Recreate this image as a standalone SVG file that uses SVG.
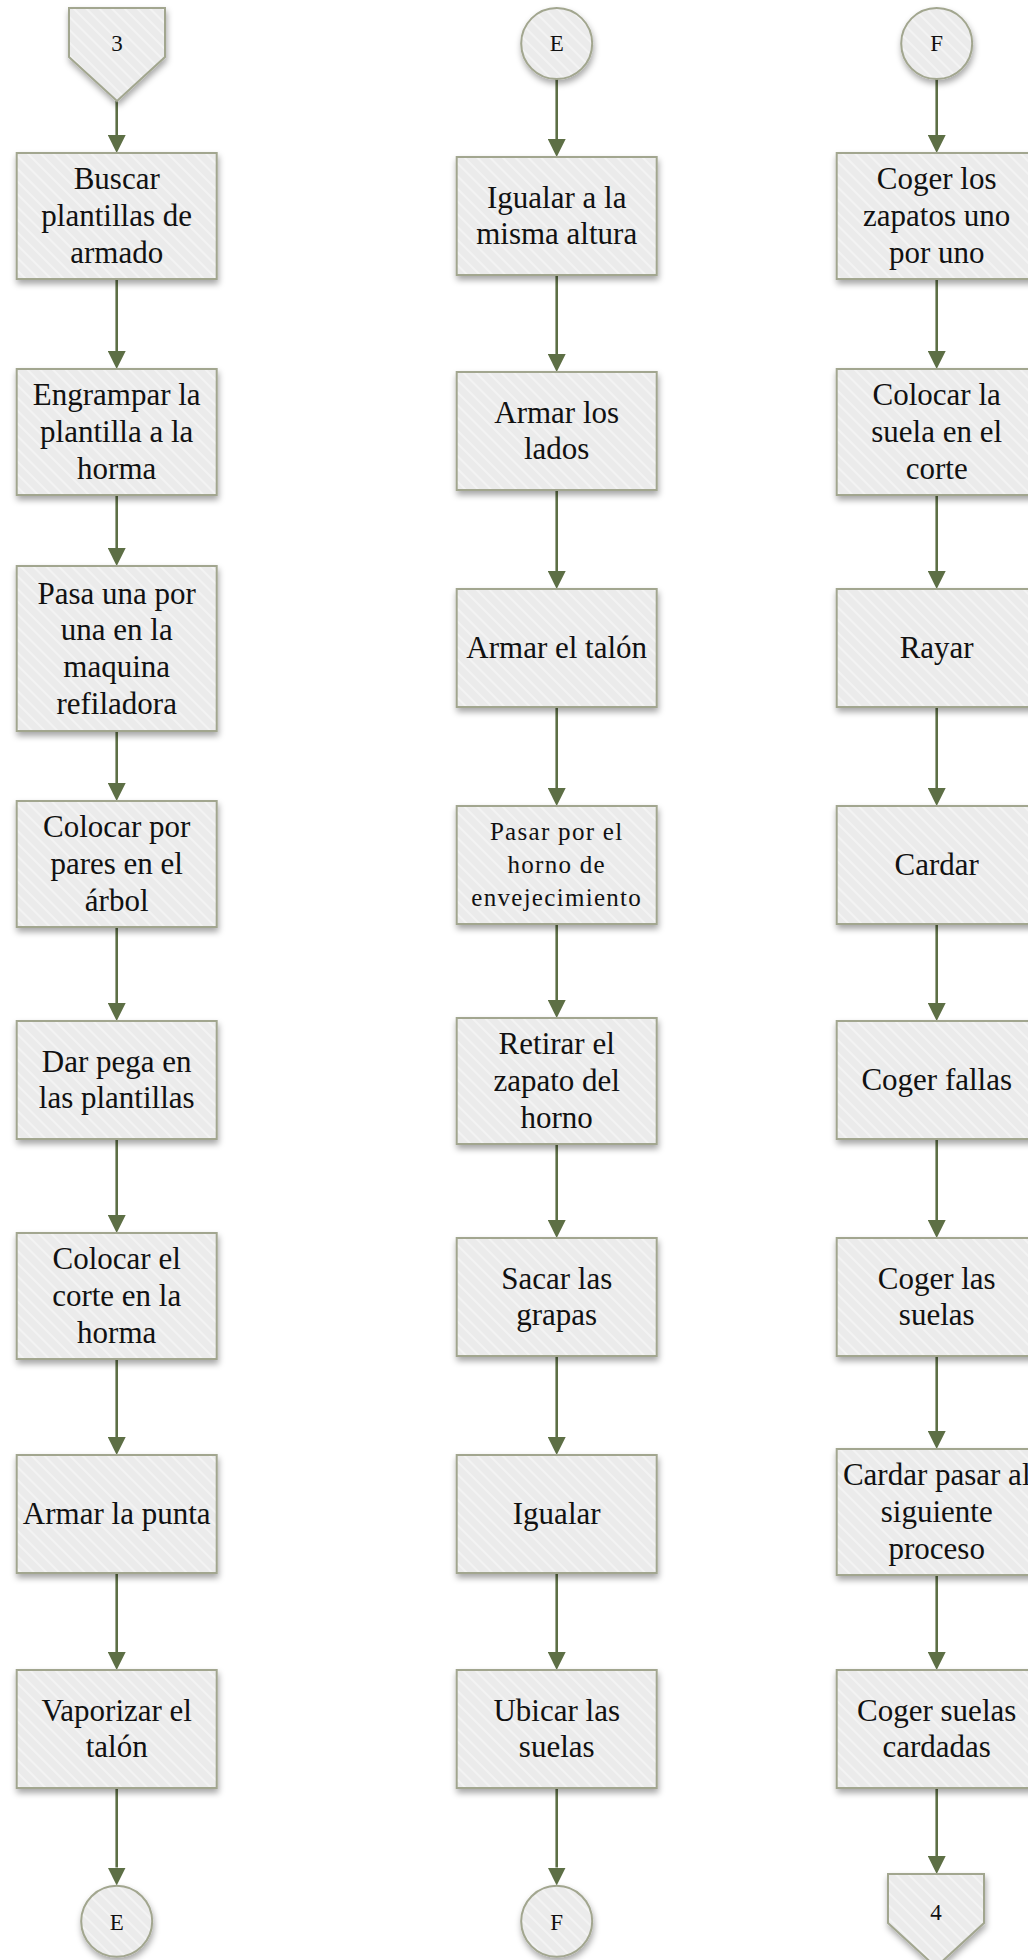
<svg xmlns="http://www.w3.org/2000/svg" width="1028" height="1960" viewBox="0 0 1028 1960">
<style>
.box{fill:url(#hatch);stroke:#a2a68f;stroke-width:2;filter:url(#sh)}
.t{font-family:"Liberation Serif","Times New Roman",serif;font-size:31px;fill:#111;text-anchor:middle}
.ts{font-size:25px;letter-spacing:1.3px}
.tc{font-family:"Liberation Serif","Times New Roman",serif;font-size:23px;fill:#111;text-anchor:middle}
.c{stroke:#5d6f45;stroke-width:2.6;fill:none;marker-end:url(#ah)}
</style>
<defs>
<pattern id="hatch" patternUnits="userSpaceOnUse" width="9" height="9" patternTransform="rotate(-45)">
<rect width="9" height="9" fill="#ebebeb"/>
<line x1="1" y1="0" x2="1" y2="9" stroke="#f5f5f5" stroke-width="1.6"/>
</pattern>
<filter id="sh" x="-10%" y="-10%" width="125%" height="130%">
<feDropShadow dx="1" dy="4" stdDeviation="3" flood-color="#000" flood-opacity="0.35"/>
</filter>
<marker id="ah" markerUnits="userSpaceOnUse" markerWidth="18" markerHeight="18" refX="0" refY="9" orient="auto" viewBox="0 0 18 18">
<path d="M0,0 L18,9 L0,18 z" fill="#5d6f45"/>
</marker>
</defs>
<g id="connectors">
<path class="c" d="M116.7,101 V135"/>
<path class="c" d="M116.7,279 V351"/>
<path class="c" d="M116.7,495 V548"/>
<path class="c" d="M116.7,731 V783"/>
<path class="c" d="M116.7,927 V1003"/>
<path class="c" d="M116.7,1139 V1215"/>
<path class="c" d="M116.7,1359 V1437"/>
<path class="c" d="M116.7,1573 V1652"/>
<path class="c" d="M116.7,1788 V1867.5"/>
<path class="c" d="M556.7,79 V139"/>
<path class="c" d="M556.7,275 V354"/>
<path class="c" d="M556.7,490 V571"/>
<path class="c" d="M556.7,707 V788"/>
<path class="c" d="M556.7,924 V1000"/>
<path class="c" d="M556.7,1144 V1220"/>
<path class="c" d="M556.7,1356 V1437"/>
<path class="c" d="M556.7,1573 V1652"/>
<path class="c" d="M556.7,1788 V1867.5"/>
<path class="c" d="M936.7,79 V135"/>
<path class="c" d="M936.7,279 V351"/>
<path class="c" d="M936.7,495 V571"/>
<path class="c" d="M936.7,707 V788"/>
<path class="c" d="M936.7,924 V1003"/>
<path class="c" d="M936.7,1139 V1220"/>
<path class="c" d="M936.7,1356 V1431"/>
<path class="c" d="M936.7,1575 V1652"/>
<path class="c" d="M936.7,1788 V1856"/>
</g>
<g id="off3"><polygon class="box" points="69,8 165,8 165,57 117,101 69,57"/><text class="tc" x="117" y="51">3</text></g>
<g id="c1b1"><rect class="box" x="16.7" y="153" width="200" height="126"/><text class="t" x="116.7" y="189.3">Buscar</text><text class="t" x="116.7" y="226">plantillas de</text><text class="t" x="116.7" y="262.7">armado</text></g>
<g id="c1b2"><rect class="box" x="16.7" y="369" width="200" height="126"/><text class="t" x="116.7" y="405.3">Engrampar la</text><text class="t" x="116.7" y="442">plantilla a la</text><text class="t" x="116.7" y="478.7">horma</text></g>
<g id="c1b3"><rect class="box" x="16.7" y="566" width="200" height="165"/><text class="t" x="116.7" y="603.5">Pasa una por</text><text class="t" x="116.7" y="640.2">una en la</text><text class="t" x="116.7" y="676.9">maquina</text><text class="t" x="116.7" y="713.6">refiladora</text></g>
<g id="c1b4"><rect class="box" x="16.7" y="801" width="200" height="126"/><text class="t" x="116.7" y="837.3">Colocar por</text><text class="t" x="116.7" y="874">pares en el</text><text class="t" x="116.7" y="910.7">árbol</text></g>
<g id="c1b5"><rect class="box" x="16.7" y="1021" width="200" height="118"/><text class="t" x="116.7" y="1071.7">Dar pega en</text><text class="t" x="116.7" y="1108.4">las plantillas</text></g>
<g id="c1b6"><rect class="box" x="16.7" y="1233" width="200" height="126"/><text class="t" x="116.7" y="1269.3">Colocar el</text><text class="t" x="116.7" y="1306">corte en la</text><text class="t" x="116.7" y="1342.7">horma</text></g>
<g id="c1b7"><rect class="box" x="16.7" y="1455" width="200" height="118"/><text class="t" x="116.7" y="1524">Armar la punta</text></g>
<g id="c1b8"><rect class="box" x="16.7" y="1670" width="200" height="118"/><text class="t" x="116.7" y="1720.7">Vaporizar el</text><text class="t" x="116.7" y="1757.4">talón</text></g>
<g id="conE1"><circle class="box" cx="116.7" cy="1921.3" r="35.5"/><text class="tc" x="116.7" y="1930">E</text></g>
<g id="conE2"><circle class="box" cx="556.7" cy="43.5" r="35.5"/><text class="tc" x="556.7" y="51">E</text></g>
<g id="c2b1"><rect class="box" x="456.7" y="157" width="200" height="118"/><text class="t" x="556.7" y="207.7">Igualar a la</text><text class="t" x="556.7" y="244.4">misma altura</text></g>
<g id="c2b2"><rect class="box" x="456.7" y="372" width="200" height="118"/><text class="t" x="556.7" y="422.7">Armar los</text><text class="t" x="556.7" y="459.4">lados</text></g>
<g id="c2b3"><rect class="box" x="456.7" y="589" width="200" height="118"/><text class="t" x="556.7" y="658">Armar el talón</text></g>
<g id="c2b4"><rect class="box" x="456.7" y="806" width="200" height="118"/><text class="t ts" x="556.7" y="840">Pasar por el</text><text class="t ts" x="556.7" y="873">horno de</text><text class="t ts" x="556.7" y="906">envejecimiento</text></g>
<g id="c2b5"><rect class="box" x="456.7" y="1018" width="200" height="126"/><text class="t" x="556.7" y="1054.3">Retirar el</text><text class="t" x="556.7" y="1091">zapato del</text><text class="t" x="556.7" y="1127.7">horno</text></g>
<g id="c2b6"><rect class="box" x="456.7" y="1238" width="200" height="118"/><text class="t" x="556.7" y="1288.7">Sacar las</text><text class="t" x="556.7" y="1325.4">grapas</text></g>
<g id="c2b7"><rect class="box" x="456.7" y="1455" width="200" height="118"/><text class="t" x="556.7" y="1524">Igualar</text></g>
<g id="c2b8"><rect class="box" x="456.7" y="1670" width="200" height="118"/><text class="t" x="556.7" y="1720.7">Ubicar las</text><text class="t" x="556.7" y="1757.4">suelas</text></g>
<g id="conF1"><circle class="box" cx="556.7" cy="1921.3" r="35.5"/><text class="tc" x="556.7" y="1930">F</text></g>
<g id="conF2"><circle class="box" cx="936.7" cy="43.5" r="35.5"/><text class="tc" x="936.7" y="51">F</text></g>
<g id="c3b1"><rect class="box" x="836.7" y="153" width="200" height="126"/><text class="t" x="936.7" y="189.3">Coger los</text><text class="t" x="936.7" y="226">zapatos uno</text><text class="t" x="936.7" y="262.7">por uno</text></g>
<g id="c3b2"><rect class="box" x="836.7" y="369" width="200" height="126"/><text class="t" x="936.7" y="405.3">Colocar la</text><text class="t" x="936.7" y="442">suela en el</text><text class="t" x="936.7" y="478.7">corte</text></g>
<g id="c3b3"><rect class="box" x="836.7" y="589" width="200" height="118"/><text class="t" x="936.7" y="658">Rayar</text></g>
<g id="c3b4"><rect class="box" x="836.7" y="806" width="200" height="118"/><text class="t" x="936.7" y="875">Cardar</text></g>
<g id="c3b5"><rect class="box" x="836.7" y="1021" width="200" height="118"/><text class="t" x="936.7" y="1090">Coger fallas</text></g>
<g id="c3b6"><rect class="box" x="836.7" y="1238" width="200" height="118"/><text class="t" x="936.7" y="1288.7">Coger las</text><text class="t" x="936.7" y="1325.4">suelas</text></g>
<g id="c3b7"><rect class="box" x="836.7" y="1449" width="200" height="126"/><text class="t" x="936.7" y="1485.3">Cardar pasar al</text><text class="t" x="936.7" y="1522">siguiente</text><text class="t" x="936.7" y="1558.7">proceso</text></g>
<g id="c3b8"><rect class="box" x="836.7" y="1670" width="200" height="118"/><text class="t" x="936.7" y="1720.7">Coger suelas</text><text class="t" x="936.7" y="1757.4">cardadas</text></g>
<g id="off4"><polygon class="box" points="888,1874 984,1874 984,1923 936,1967 888,1923"/><text class="tc" x="936" y="1920">4</text></g>
</svg>
